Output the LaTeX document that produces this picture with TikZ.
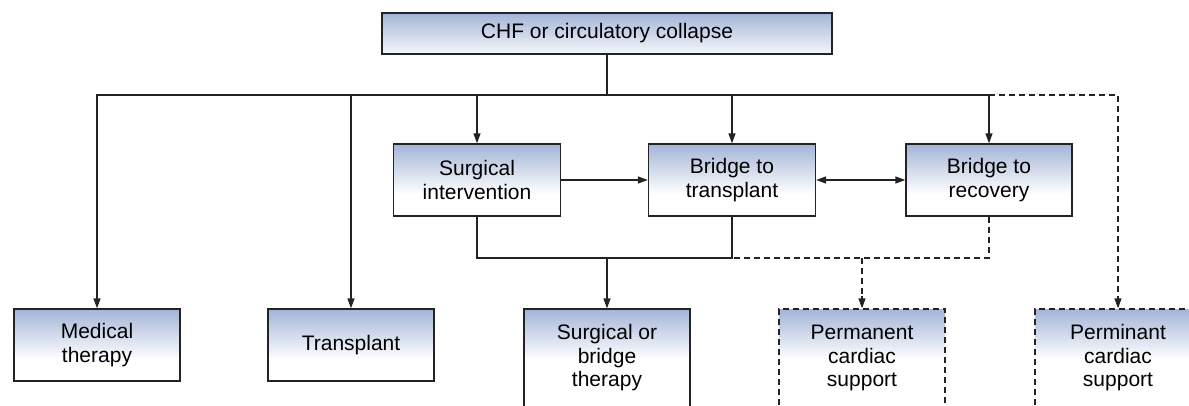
\documentclass[tikz,border=0pt]{standalone}
\usepackage{fontspec}
\setmainfont{Liberation Sans}
\usetikzlibrary{arrows.meta}
\definecolor{boxblue}{RGB}{164,181,215}
\definecolor{ink}{RGB}{35,35,35}
\tikzset{
  % blue-to-white fade over the top #1 pt of a box, built from thin strips
  grad/.style={path picture={
    \foreach \i [evaluate=\i as \p using int(100-4*\i)] in {0,...,25}
      \fill[boxblue!\p!white]
        ([yshift={-#1*\i/26}]path picture bounding box.north west) rectangle
        ([yshift={-#1*(\i+1)/26-0.4}]path picture bounding box.north east);
  }},
  box/.style={draw=ink, line width=1.3pt, fill=white, grad=52, inner sep=0pt,
    align=center, text=black, minimum width=166pt, minimum height=72pt,
    font=\fontsize{21}{23.5}\selectfont},
  tallbox/.style={box, minimum height=98pt},
  dashedbox/.style={tallbox, dash pattern=on 6pt off 4pt},
  link/.style={draw=ink, line width=1.3pt},
  arr/.style={link, -{Triangle[length=10pt,width=7pt]}},
  dlink/.style={link, dash pattern=on 6pt off 4pt},
}
\begin{document}
\begin{tikzpicture}[x=1pt, y=-1pt]
  \useasboundingbox (0,0) rectangle (1189,405);
  \clip (0,0) rectangle (1189,405);

  % top box
  \node[box, grad=47, minimum width=450pt, minimum height=41pt] (top) at (607,33.5) {CHF or circulatory collapse};

  % middle row
  \node[box, minimum width=167pt] (si) at (477,180) {Surgical\\intervention};
  \node[box, minimum width=167pt] (bt) at (732,180) {Bridge to\\transplant};
  \node[box] (br) at (989,180) {Bridge to\\recovery};

  % bottom row
  \node[box] (med) at (97,345) {Medical\\therapy};
  \node[box] (tr) at (351,345) {Transplant};
  \node[tallbox] (sb) at (607,358) {Surgical or\\bridge\\therapy};
  \node[dashedbox] (pc1) at (862,358) {Permanent\\cardiac\\support};
  \node[dashedbox] (pc2) at (1118,358) {Perminant\\cardiac\\support};

  % branching from the top box
  \coordinate (hub) at (607,95);
  \draw[link] (top.south) -- (hub);
  \draw[arr] (hub) -| (med.north);
  \draw[arr] (hub) -| (tr.north);
  \draw[arr] (hub) -| (si.north);
  \draw[arr] (hub) -| (bt.north);
  \draw[arr] (hub) -| (br.north);
  \draw[dlink] (br.north |- hub) -| ([yshift=12pt]pc2.north);
  \draw[arr] ([yshift=12pt]pc2.north) -- (pc2.north);

  % links in the middle row
  \draw[arr] (si.east) -- (bt.west);
  \draw[link, {Triangle[length=10pt,width=7pt]}-{Triangle[length=10pt,width=7pt]}] (bt.east) -- (br.west);

  % merging into the bottom row
  \coordinate (join) at (607,258);
  \draw[link] (si.south) |- (join) -| (bt.south);
  \draw[arr] (join) -- (sb.north);
  \draw[dlink] (br.south) |- (bt.south |- join);
  \draw[dlink] (pc1.north |- join) -- ([yshift=12pt]pc1.north);
  \draw[arr] ([yshift=12pt]pc1.north) -- (pc1.north);
\end{tikzpicture}
\end{document}
